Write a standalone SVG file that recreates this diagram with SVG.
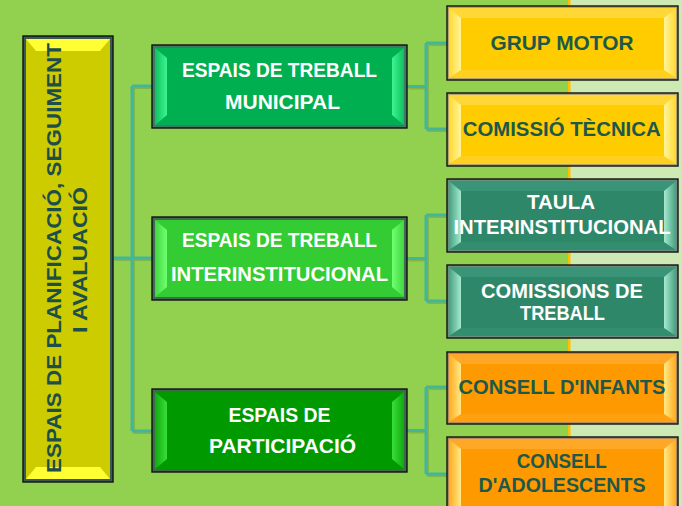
<svg xmlns="http://www.w3.org/2000/svg" width="682" height="506" viewBox="0 0 682 506">
<defs>
<style>
.t{font-family:"Liberation Sans",Arial,sans-serif;font-weight:bold;text-anchor:middle}
.w{fill:#ffffff;font-size:20px}
.d{fill:#1d584a;font-size:20.5px}
.out{stroke:#111;stroke-width:1.4}
.conn path{fill:none;stroke:#45b597;stroke-width:3;stroke-linejoin:miter}
.sh path{fill:none;stroke:#000;stroke-opacity:0.12;stroke-width:3}
</style>
<linearGradient id="gL1" x1="0" x2="1" y1="0" y2="0"><stop offset="0" stop-color="#10c060"/><stop offset="1" stop-color="#3cf590"/></linearGradient>
<linearGradient id="gR1" x1="1" x2="0" y1="0" y2="0"><stop offset="0" stop-color="#10c060"/><stop offset="1" stop-color="#3cf590"/></linearGradient>
<linearGradient id="gL2" x1="0" x2="1" y1="0" y2="0"><stop offset="0" stop-color="#40d840"/><stop offset="1" stop-color="#70ff70"/></linearGradient>
<linearGradient id="gR2" x1="1" x2="0" y1="0" y2="0"><stop offset="0" stop-color="#40d840"/><stop offset="1" stop-color="#70ff70"/></linearGradient>
<linearGradient id="gL3" x1="0" x2="1" y1="0" y2="0"><stop offset="0" stop-color="#10aa10"/><stop offset="1" stop-color="#38e038"/></linearGradient>
<linearGradient id="gR3" x1="1" x2="0" y1="0" y2="0"><stop offset="0" stop-color="#10aa10"/><stop offset="1" stop-color="#38e038"/></linearGradient>
<linearGradient id="gLy" x1="0" x2="1" y1="0" y2="0"><stop offset="0" stop-color="#ffd830"/><stop offset="1" stop-color="#fff59a"/></linearGradient>
<linearGradient id="gRy" x1="1" x2="0" y1="0" y2="0"><stop offset="0" stop-color="#ffd830"/><stop offset="1" stop-color="#fff59a"/></linearGradient>
<linearGradient id="gLt" x1="0" x2="1" y1="0" y2="0"><stop offset="0" stop-color="#45a080"/><stop offset="1" stop-color="#a5ead0"/></linearGradient>
<linearGradient id="gRt" x1="1" x2="0" y1="0" y2="0"><stop offset="0" stop-color="#45a080"/><stop offset="1" stop-color="#a5ead0"/></linearGradient>
<linearGradient id="gLo" x1="0" x2="1" y1="0" y2="0"><stop offset="0" stop-color="#ffaa20"/><stop offset="1" stop-color="#ffea85"/></linearGradient>
<linearGradient id="gRo" x1="1" x2="0" y1="0" y2="0"><stop offset="0" stop-color="#ffaa20"/><stop offset="1" stop-color="#ffea85"/></linearGradient>
</defs>
<rect x="0" y="0" width="682" height="506" fill="#92d050"/>
<rect x="570" y="0" width="112" height="506" fill="#cde9b4"/>
<rect x="568" y="0" width="2.5" height="506" fill="#ffc000"/>

<g class="sh" transform="translate(1.5,1.5)">
<path d="M113,258 H152 M132,86 V431 M132,86 H152 M132,431 H152"/>
<path d="M407,86.5 H426 M426,43 V129 M426,43 H447 M426,129 H447"/>
<path d="M407,258.5 H426 M426,215 V301 M426,215 H447 M426,301 H447"/>
<path d="M407,430.5 H426 M426,387 V474 M426,387 H447 M426,474 H447"/>
</g>
<g id="connectors" class="conn">
<path d="M113,258 H152 M132,86 V431 M132,86 H152 M132,431 H152"/>
<path d="M407,86.5 H426 M426,43 V129 M426,43 H447 M426,129 H447"/>
<path d="M407,258.5 H426 M426,215 V301 M426,215 H447 M426,301 H447"/>
<path d="M407,430.5 H426 M426,387 V474 M426,387 H447 M426,474 H447"/>
</g>

<g id="root">
<rect x="23" y="36" width="90" height="446" fill="#3a5a55" class="out"/>
<rect x="26" y="39" width="84" height="440" fill="#cccc00"/>
<polygon points="26,39 110,39 100,51 36,51" fill="#ffff33"/>
<polygon points="26,479 110,479 100,467 36,467" fill="#ffff33"/>
<text class="t" fill="#1d4f48" font-size="20.5" transform="translate(61,258) rotate(-90)" textLength="430" lengthAdjust="spacingAndGlyphs">ESPAIS DE PLANIFICACIÓ, SEGUIMENT</text>
<text class="t" fill="#1d4f48" font-size="20.5" transform="translate(87,260) rotate(-90)" textLength="146" lengthAdjust="spacingAndGlyphs">I AVALUACIÓ</text>
</g>

<g id="m1">
<rect x="152" y="45" width="255" height="83" fill="#3f7a64" class="out"/>
<rect x="155" y="48" width="249" height="77" fill="#00b050"/>
<polygon points="155,48 167,58 167,115 155,125" fill="url(#gL1)"/>
<polygon points="404,48 392,58 392,115 404,125" fill="url(#gR1)"/>
<text class="t w" x="279.5" y="76.7" textLength="195" lengthAdjust="spacingAndGlyphs">ESPAIS DE TREBALL</text>
<text class="t w" x="282.5" y="109" textLength="115" lengthAdjust="spacingAndGlyphs">MUNICIPAL</text>
</g>

<g id="m2">
<rect x="152" y="217" width="255" height="83" fill="#3f6a55" class="out"/>
<rect x="155" y="220" width="249" height="77" fill="#33cc33"/>
<polygon points="155,220 167,230 167,287 155,297" fill="url(#gL2)"/>
<polygon points="404,220 392,230 392,287 404,297" fill="url(#gR2)"/>
<text class="t w" x="279.5" y="247.3" textLength="195" lengthAdjust="spacingAndGlyphs">ESPAIS DE TREBALL</text>
<text class="t w" x="279.5" y="280.7" textLength="217" lengthAdjust="spacingAndGlyphs">INTERINSTITUCIONAL</text>
</g>

<g id="m3">
<rect x="152" y="389" width="255" height="83" fill="#3c6a4a" class="out"/>
<rect x="155" y="392" width="249" height="77" fill="#009900"/>
<polygon points="155,392 167,402 167,459 155,469" fill="url(#gL3)"/>
<polygon points="404,392 392,402 392,459 404,469" fill="url(#gR3)"/>
<text class="t w" x="279.5" y="421.7" textLength="102" lengthAdjust="spacingAndGlyphs">ESPAIS DE</text>
<text class="t w" x="282.5" y="453.3" textLength="147" lengthAdjust="spacingAndGlyphs">PARTICIPACIÓ</text>
</g>

<g id="r1">
<rect x="447" y="6" width="231" height="74" fill="#b5a36a" class="out"/>
<rect x="449" y="8" width="227" height="70" fill="#ffcc00"/>
<polygon points="449,8 676,8 664,18 461,18" fill="#ffd838"/>
<polygon points="449,78 676,78 664,70 461,70" fill="#ffd020"/>
<polygon points="449,8 461,18 461,70 449,78" fill="url(#gLy)"/>
<polygon points="676,8 664,18 664,70 676,78" fill="url(#gRy)"/>
<text class="t d" x="562" y="50" textLength="143" lengthAdjust="spacingAndGlyphs">GRUP MOTOR</text>
</g>

<g id="r2">
<rect x="447" y="93" width="231" height="73" fill="#b5a36a" class="out"/>
<rect x="449" y="95" width="227" height="69" fill="#ffcc00"/>
<polygon points="449,95 676,95 664,105 461,105" fill="#ffd838"/>
<polygon points="449,164 676,164 664,156 461,156" fill="#ffd020"/>
<polygon points="449,95 461,105 461,156 449,164" fill="url(#gLy)"/>
<polygon points="676,95 664,105 664,156 676,164" fill="url(#gRy)"/>
<text class="t d" x="561.7" y="136" textLength="198" lengthAdjust="spacingAndGlyphs">COMISSIÓ TÈCNICA</text>
</g>

<g id="r3">
<rect x="447" y="179" width="231" height="73" fill="#6a8f80" class="out"/>
<rect x="449" y="181" width="227" height="69" fill="#2f876a"/>
<polygon points="449,181 676,181 664,191 461,191" fill="#3a9578"/>
<polygon points="449,250 676,250 664,242 461,242" fill="#338e6f"/>
<polygon points="449,181 461,191 461,242 449,250" fill="url(#gLt)"/>
<polygon points="676,181 664,191 664,242 676,250" fill="url(#gRt)"/>
<text class="t w" x="561" y="209.3" font-size="20.5" textLength="68" lengthAdjust="spacingAndGlyphs">TAULA</text>
<text class="t w" x="562" y="234" font-size="20.5" textLength="217" lengthAdjust="spacingAndGlyphs">INTERINSTITUCIONAL</text>
</g>

<g id="r4">
<rect x="447" y="265" width="231" height="73" fill="#6a8f80" class="out"/>
<rect x="449" y="267" width="227" height="69" fill="#2f876a"/>
<polygon points="449,267 676,267 664,277 461,277" fill="#3a9578"/>
<polygon points="449,336 676,336 664,328 461,328" fill="#338e6f"/>
<polygon points="449,267 461,277 461,328 449,336" fill="url(#gLt)"/>
<polygon points="676,267 664,277 664,328 676,336" fill="url(#gRt)"/>
<text class="t w" x="562" y="298.3" font-size="20.5" textLength="162" lengthAdjust="spacingAndGlyphs">COMISSIONS DE</text>
<text class="t w" x="562.5" y="320" font-size="20.5" textLength="85" lengthAdjust="spacingAndGlyphs">TREBALL</text>
</g>

<g id="r5">
<rect x="447" y="352" width="231" height="72" fill="#b58a5a" class="out"/>
<rect x="449" y="354" width="227" height="68" fill="#ff9900"/>
<polygon points="449,354 676,354 664,364 461,364" fill="#ffa828"/>
<polygon points="449,422 676,422 664,414 461,414" fill="#ffa010"/>
<polygon points="449,354 461,364 461,414 449,422" fill="url(#gLo)"/>
<polygon points="676,354 664,364 664,414 676,422" fill="url(#gRo)"/>
<text class="t d" x="562" y="394.3" textLength="207" lengthAdjust="spacingAndGlyphs">CONSELL D'INFANTS</text>
</g>

<g id="r6">
<rect x="447" y="437" width="231" height="76" fill="#b58a5a" class="out"/>
<rect x="449" y="439" width="227" height="72" fill="#ff9900"/>
<polygon points="449,439 676,439 664,449 461,449" fill="#ffa828"/>
<polygon points="449,439 461,449 461,506 449,506" fill="url(#gLo)"/>
<polygon points="676,439 664,449 664,506 676,506" fill="url(#gRo)"/>
<text class="t d" x="561.7" y="468.3" textLength="90" lengthAdjust="spacingAndGlyphs">CONSELL</text>
<text class="t d" x="562" y="491.7" textLength="167" lengthAdjust="spacingAndGlyphs">D'ADOLESCENTS</text>
</g>
</svg>
